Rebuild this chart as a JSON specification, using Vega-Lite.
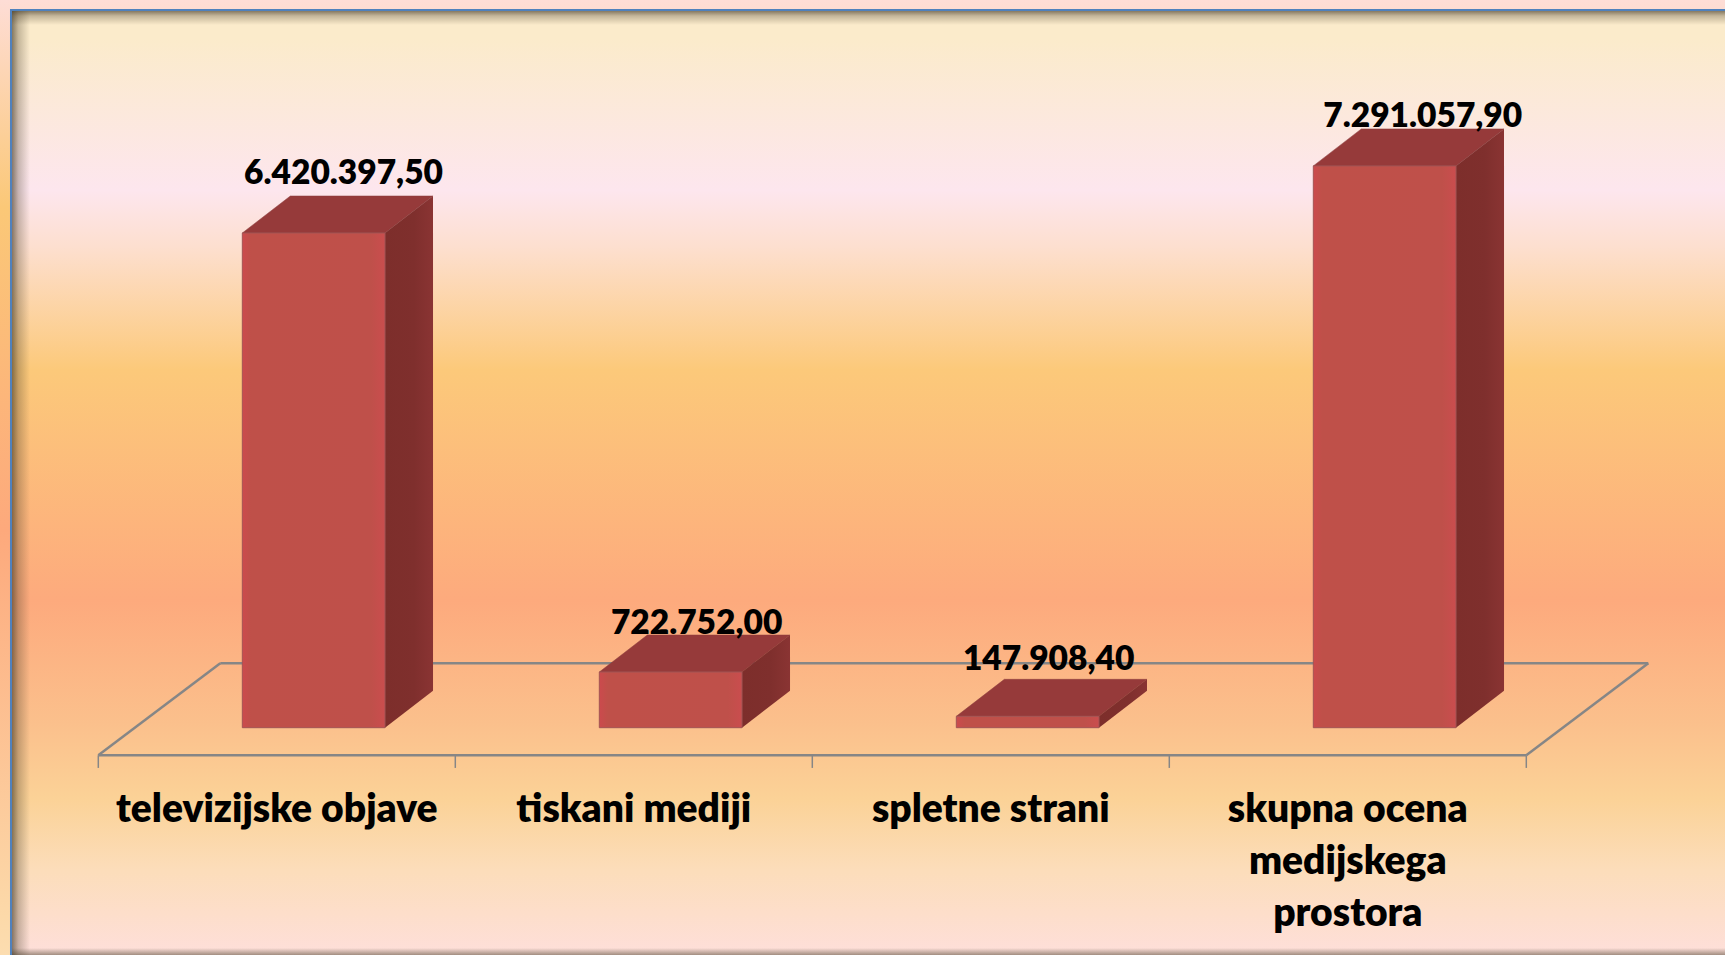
{
"$schema":"https://vega.github.io/schema/vega-lite/v6.json",
"width":1725,"height":955,"padding":0,
"autosize":{"type":"fit","contains":"padding"},
"config":{"axis":{"disable":true},"view":{"stroke":null},"locale":{"number":{"decimal":",","thousands":".","grouping":[3],"currency":["","€"]}}},
"view":{"stroke":null,"fill":{"gradient":"linear","x1":0,"y1":0,"x2":0,"y2":1,"stops":[{"offset":0,"color":"#FEDDD6"},{"offset":0.217,"color":"#FBC877"},{"offset":0.555,"color":"#FDA97C"},{"offset":0.96,"color":"#FCD9A9"},{"offset":1,"color":"#FCDDB0"}]}},
"datasets":{"bars":[
{"category":"televizijske objave","value":6420397.5},
{"category":"tiskani mediji","value":722752},
{"category":"spletne strani","value":147908.4},
{"category":"skupna ocena\nmedijskega\nprostora","value":7291057.9}],
"ticks":[{"tick":0},{"tick":1},{"tick":2},{"tick":3},{"tick":4}],
"one":[{}]},
"layer":[
{"data":{"name":"one"},"mark":{"type":"rect","fill":"#4F81BD"},"encoding":{
"x":{"datum":-0.24735,"type":"quantitative","scale":{"domain":[-0.27535,4.55658],"zero":false,"nice":false}},"x2":{"datum":4.55658},
"y":{"datum":9327289,"type":"quantitative","scale":{"domain":[-2949900,9444091],"zero":false,"nice":false}},"y2":{"datum":-2949900}}},
{"data":{"name":"one"},"mark":{"type":"rect","fill":{"gradient":"linear","x1":0,"y1":0,"x2":0,"y2":1,"stops":[{"offset":0,"color":"#FBEBCB"},{"offset":0.03,"color":"#FBEBCB"},{"offset":0.19,"color":"#FDE6EE"},{"offset":0.25,"color":"#FDDFCF"},{"offset":0.38,"color":"#FCC97A"},{"offset":0.625,"color":"#FDAA7D"},{"offset":0.755,"color":"#FBC08C"},{"offset":0.835,"color":"#FBD297"},{"offset":0.91,"color":"#FCDDBA"},{"offset":1,"color":"#FEDFDA"}]}},"encoding":{
"x":{"datum":-0.24174,"type":"quantitative","scale":{"domain":[-0.27535,4.55658],"zero":false,"nice":false}},"x2":{"datum":4.55658},
"y":{"datum":9301333,"type":"quantitative","scale":{"domain":[-2949900,9444091],"zero":false,"nice":false}},"y2":{"datum":-2949900}}},
{"data":{"name":"one"},"mark":{"type":"rect","fill":{"gradient":"linear","x1":0,"y1":0,"x2":1,"y2":0,"stops":[{"offset":0,"color":"rgba(70,60,40,0.65)"},{"offset":0.35,"color":"rgba(70,60,40,0.3)"},{"offset":1,"color":"rgba(70,60,40,0)"}]}},"encoding":{
"x":{"datum":-0.24174,"type":"quantitative","scale":{"domain":[-0.27535,4.55658],"zero":false,"nice":false}},"x2":{"datum":-0.19132},
"y":{"datum":9301333,"type":"quantitative","scale":{"domain":[-2949900,9444091],"zero":false,"nice":false}},"y2":{"datum":-2949900}}},
{"data":{"name":"one"},"mark":{"type":"rect","fill":{"gradient":"linear","x1":0,"y1":0,"x2":0,"y2":1,"stops":[{"offset":0,"color":"rgba(70,60,40,0.65)"},{"offset":0.35,"color":"rgba(70,60,40,0.3)"},{"offset":1,"color":"rgba(70,60,40,0)"}]}},"encoding":{
"x":{"datum":-0.24174,"type":"quantitative","scale":{"domain":[-0.27535,4.55658],"zero":false,"nice":false}},"x2":{"datum":4.55658},
"y":{"datum":9301333,"type":"quantitative","scale":{"domain":[-2949900,9444091],"zero":false,"nice":false}},"y2":{"datum":9119641}}},
{"data":{"name":"one"},"mark":{"type":"rect","fill":{"gradient":"linear","x1":0,"y1":0,"x2":0,"y2":1,"stops":[{"offset":0,"color":"rgba(70,60,40,0)"},{"offset":1,"color":"rgba(70,60,40,0.5)"}]}},"encoding":{
"x":{"datum":-0.24174,"type":"quantitative","scale":{"domain":[-0.27535,4.55658],"zero":false,"nice":false}},"x2":{"datum":4.55658},
"y":{"datum":-2859053,"type":"quantitative","scale":{"domain":[-2949900,9444091],"zero":false,"nice":false}},"y2":{"datum":-2949900}}},
{"data":{"name":"one"},"mark":{"type":"rule","stroke":"#868686","strokeWidth":2.5},"encoding":{
"x":{"datum":0.3417,"type":"quantitative","scale":{"domain":[-0.27535,4.55658],"zero":false,"nice":false}},"x2":{"datum":4.3417},
"y":{"datum":835783,"type":"quantitative","scale":{"domain":[-2949900,9444091],"zero":false,"nice":false}}}},
{"data":{"name":"one"},"mark":{"type":"rule","stroke":"#868686","strokeWidth":2.5},"encoding":{
"x":{"datum":0,"type":"quantitative","scale":{"domain":[-0.27535,4.55658],"zero":false,"nice":false}},"x2":{"datum":4},
"y":{"datum":-358193,"type":"quantitative","scale":{"domain":[-2949900,9444091],"zero":false,"nice":false}}}},
{"data":{"name":"one"},"mark":{"type":"rule","stroke":"#868686","strokeWidth":2.5},"encoding":{
"x":{"datum":0,"type":"quantitative","scale":{"domain":[-0.27535,4.55658],"zero":false,"nice":false}},"x2":{"datum":0.3417},
"y":{"datum":-358193,"type":"quantitative","scale":{"domain":[-2949900,9444091],"zero":false,"nice":false}},"y2":{"datum":835783}}},
{"data":{"name":"one"},"mark":{"type":"rule","stroke":"#868686","strokeWidth":2.5},"encoding":{
"x":{"datum":4,"type":"quantitative","scale":{"domain":[-0.27535,4.55658],"zero":false,"nice":false}},"x2":{"datum":4.3417},
"y":{"datum":-358193,"type":"quantitative","scale":{"domain":[-2949900,9444091],"zero":false,"nice":false}},"y2":{"datum":835783}}},
{"data":{"name":"ticks"},"mark":{"type":"rule","stroke":"#868686","strokeWidth":1.5},"encoding":{
"x":{"field":"tick","type":"quantitative","scale":{"domain":[-0.27535,4.55658],"zero":false,"nice":false}},
"y":{"datum":-358193,"type":"quantitative","scale":{"domain":[-2949900,9444091],"zero":false,"nice":false}},"y2":{"datum":-522000}}},
{"data":{"name":"bars"},
"transform":[
{"window":[{"op":"row_number","as":"n"}]},
{"calculate":"datum.n-1","as":"i"},
{"calculate":"datum.i+0.4034","as":"left"},
{"calculate":"datum.i+0.8031","as":"right"},
{"calculate":"datum.i+[0.687,0.676,0.662,0.71][datum.i]","as":"labelX"},
{"calculate":"datum.value+480186+12978*[11.7,1.3,9.6,2][datum.i]","as":"labelY"},
{"calculate":"datum.i+0.5","as":"center"}
],
"layer":[
{"transform":[{"calculate":"[0,1]","as":"t"},{"flatten":["t"]},{"calculate":"datum.value+datum.t*480186","as":"ty"},{"calculate":"datum.left+datum.t*0.1345","as":"tx0"},{"calculate":"datum.right+datum.t*0.1345","as":"tx1"}],
"mark":{"type":"area","orient":"horizontal","fill":"#963A3A","stroke":"#8A3F3F","strokeWidth":0.5},
"encoding":{
"detail":{"field":"category"},
"x":{"field":"tx0","type":"quantitative","stack":null,"scale":{"domain":[-0.27535,4.55658],"zero":false,"nice":false}},"x2":{"field":"tx1"},
"y":{"field":"ty","type":"quantitative","scale":{"domain":[-2949900,9444091],"zero":false,"nice":false}}}},
{"transform":[{"calculate":"[0,1]","as":"t"},{"flatten":["t"]},{"calculate":"datum.right+datum.t*0.1345","as":"sx"},{"calculate":"datum.t*480186","as":"sy0"},{"calculate":"datum.value+datum.t*480186","as":"sy1"}],
"mark":{"type":"area","fill":{"gradient":"linear","x1":0,"y1":0,"x2":1,"y2":0,"stops":[{"offset":0,"color":"#7D2E2B"},{"offset":0.6,"color":"#7F2F2D"},{"offset":1,"color":"#8A3433"}]}},
"encoding":{
"detail":{"field":"category"},
"x":{"field":"sx","type":"quantitative","scale":{"domain":[-0.27535,4.55658],"zero":false,"nice":false}},
"y":{"field":"sy1","type":"quantitative","stack":null,"scale":{"domain":[-2949900,9444091],"zero":false,"nice":false}},"y2":{"field":"sy0"}}},
{"mark":{"type":"rect","stroke":"#A25454","strokeWidth":1,"fill":{"gradient":"linear","x1":0,"y1":0,"x2":1,"y2":0,"stops":[{"offset":0,"color":"#CC4A4D"},{"offset":0.06,"color":"#BF5049"},{"offset":0.9,"color":"#BF504A"},{"offset":1,"color":"#CA4D4E"}]}},
"encoding":{
"x":{"field":"left","type":"quantitative","scale":{"domain":[-0.27535,4.55658],"zero":false,"nice":false}},"x2":{"field":"right"},
"y":{"field":"value","type":"quantitative","scale":{"domain":[-2949900,9444091],"zero":false,"nice":false}},"y2":{"datum":0}}},
{"mark":{"type":"text","font":"Lato","fontWeight":800,"fontSize":33.5,"baseline":"alphabetic","align":"center","fill":"#000000"},
"encoding":{
"x":{"field":"labelX","type":"quantitative","scale":{"domain":[-0.27535,4.55658],"zero":false,"nice":false}},
"y":{"field":"labelY","type":"quantitative","scale":{"domain":[-2949900,9444091],"zero":false,"nice":false}},
"text":{"field":"value","type":"quantitative","format":",.2f"}}},
{"mark":{"type":"text","font":"Lato","fontWeight":800,"fontSize":39,"baseline":"alphabetic","align":"center","fill":"#000000","lineBreak":"\n","lineHeight":52},
"encoding":{
"x":{"field":"center","type":"quantitative","scale":{"domain":[-0.27535,4.55658],"zero":false,"nice":false}},
"y":{"datum":-1219932,"type":"quantitative","scale":{"domain":[-2949900,9444091],"zero":false,"nice":false}},
"text":{"field":"category","type":"nominal"}}}
]}
]}
